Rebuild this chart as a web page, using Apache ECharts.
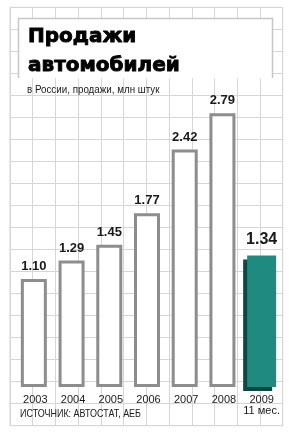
<!DOCTYPE html>
<html>
<head>
<meta charset="utf-8">
<script src="https://cdn.jsdelivr.net/npm/echarts@6/dist/echarts.min.js"></script>
<style>
html,body{margin:0;padding:0;background:#fff;}
#chart{width:291px;height:436px;}
</style>
</head>
<body>
<div id="chart"></div>
<script>
const years = ['2003', '2004', '2005', '2006', '2007', '2008', '2009'];
const sales = [1.10, 1.29, 1.45, 1.77, 2.42, 2.79, 1.34];
const yearNotes = ['', '', '', '', '', '', '11 мес.'];
const titleLines = ['Продажи', 'автомобилей'];
const subtitle = 'в России, продажи, млн штук';
const sourceText = 'ИСТОЧНИК: АВТОСТАТ, АЕБ';
const highlightIndex = 6;

const SANS = '"Liberation Sans", Arial, sans-serif';
const GRIDC = '#d6d6d6';

const chart = echarts.init(document.getElementById('chart'), null, {renderer: 'canvas'});

const grayData = sales.map((v, i) => i === highlightIndex ? '-' : v);
const tealData = sales.map((v, i) => i === highlightIndex ? v : '-');

const labelBase = {
  show: true, position: 'top', distance: 6,
  fontFamily: SANS, fontWeight: 'bold', fontSize: 13, color: '#1a1a1a',
  formatter: p => p.value.toFixed(2)
};

chart.setOption({
  animation: false,
  backgroundColor: '#fff',
  grid: [
    {left: 16.5, right: 10.5, top: 92.7, bottom: 49, outerBoundsMode: 'none', containLabel: false},
    {left: 10, right: 8.3, top: 7.3, bottom: 10.3, outerBoundsMode: 'none', containLabel: false,
     show: true, borderColor: GRIDC, borderWidth: 1, z: 0}
  ],
  xAxis: [
    {
      type: 'category', gridIndex: 0, data: years,
      axisLine: {show: false}, axisTick: {show: false}, splitLine: {show: false},
      axisLabel: {
        interval: 0, margin: 7, fontFamily: SANS, fontSize: 11, color: '#1a1a1a', lineHeight: 11,
        formatter: (v, i) => yearNotes[i] ? v + '\n' + yearNotes[i] : v
      }
    },
    {
      type: 'value', gridIndex: 1, min: 0, max: 12, interval: 1,
      axisLine: {show: false}, axisTick: {show: false}, axisLabel: {show: false},
      splitLine: {show: true, lineStyle: {color: GRIDC, width: 1}}
    }
  ],
  yAxis: [
    {
      type: 'value', gridIndex: 0, min: 0, max: 3,
      axisLine: {show: false}, axisTick: {show: false}, axisLabel: {show: false},
      splitLine: {show: false}
    },
    {
      type: 'value', gridIndex: 1, min: 0, max: 19, interval: 1,
      axisLine: {show: false}, axisTick: {show: false}, axisLabel: {show: false},
      splitLine: {show: true, lineStyle: {color: GRIDC, width: 1}}
    }
  ],
  series: [
    {
      type: 'bar', xAxisIndex: 0, yAxisIndex: 0, z: 5,
      barWidth: 26, barGap: '-100%',
      data: grayData,
      itemStyle: {color: '#ffffff', borderColor: '#8d8d8d', borderWidth: 3},
      label: labelBase
    },
    {
      type: 'bar', xAxisIndex: 0, yAxisIndex: 0, z: 5,
      barWidth: 29, barGap: '-100%',
      data: tealData,
      itemStyle: {
        color: '#1f8b80', borderWidth: 0,
        shadowColor: '#0b4a42', shadowOffsetX: -4, shadowOffsetY: 4, shadowBlur: 0
      },
      label: Object.assign({}, labelBase, {fontSize: 16, distance: 8})
    }
  ],
  graphic: [
    {type: 'rect', z: 10, shape: {x: 18, y: 18.5, width: 255, height: 60}, style: {fill: '#fff'}},
    {type: 'polyline', z: 11, shape: {points: [[18.5, 78], [18.5, 18.5], [272.5, 18.5], [272.5, 78]]},
     style: {stroke: '#c6c6c6', lineWidth: 1.5, fill: null}},
    {type: 'text', z: 12, x: 28, y: 22,
     style: {text: titleLines.join('\n'), font: 'bold 20px "DejaVu Sans"', lineHeight: 29,
             fill: '#000', stroke: '#000', lineWidth: 0.9, verticalAlign: 'top'}},
    {type: 'text', z: 12, x: 27, y: 90, scaleX: 0.89,
     style: {text: subtitle, font: '11px ' + SANS, fill: '#1a1a1a', verticalAlign: 'middle'}},
    {type: 'text', z: 12, x: 20, y: 413.5, scaleX: 0.78,
     style: {text: sourceText, font: '11.5px ' + SANS, fill: '#1a1a1a', verticalAlign: 'middle'}}
  ]
});
</script>
</body>
</html>
